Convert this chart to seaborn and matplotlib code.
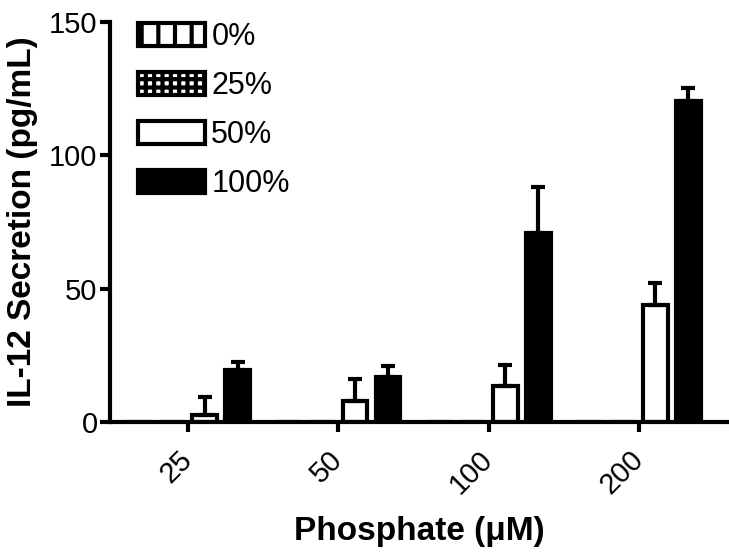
import matplotlib
matplotlib.use('Agg')
import matplotlib.pyplot as plt
import seaborn as sns
import pandas as pd
import numpy as np
from matplotlib.patches import Patch

# data
phosphate = ['25', '50', '100', '200']
groups = ['0%', '25%', '50%', '100%']
vals_0 = [0, 0, 0, 0]
vals_25 = [0, 0, 0, 0]
vals_50 = [2.5, 8, 13.5, 44]
vals_100 = [19.5, 17, 71, 120.5]
err_50 = [7, 8, 8, 8]
err_100 = [3, 4, 17, 5]

values = {'0%': vals_0, '25%': vals_25, '50%': vals_50, '100%': vals_100}
errors = {'50%': err_50, '100%': err_100}

rows = []
for g in groups:
    for p, v in zip(phosphate, values[g]):
        rows.append({'Phosphate': p, 'Group': g, 'Value': v})
df = pd.DataFrame(rows)

sns.set_style('ticks')
plt.rcParams['font.family'] = ['Liberation Sans', 'DejaVu Sans']
plt.rcParams['hatch.linewidth'] = 3
plt.rcParams['hatch.color'] = 'black'
plt.rcParams['text.color'] = 'black'
plt.rcParams['axes.labelcolor'] = 'black'
plt.rcParams['xtick.color'] = 'black'
plt.rcParams['ytick.color'] = 'black'
plt.rcParams['axes.edgecolor'] = 'black'

fig = plt.figure(figsize=(7.29, 5.56), dpi=100)
ax = fig.add_axes([0.151, 0.241, 0.849, 0.719])

palette = {'0%': 'white', '25%': 'white', '50%': 'white', '100%': 'black'}
hatches = {'0%': '|', '25%': '++', '50%': '', '100%': ''}

sns.barplot(data=df, x='Phosphate', y='Value', hue='Group', order=phosphate,
            hue_order=groups, palette=palette, edgecolor='black', linewidth=3,
            width=0.88, gap=0.25, errorbar=None, legend=False, ax=ax)

# upper-only error bars, Prism style
for g, cont in zip(groups, ax.containers):
    for bar in cont:
        bar.set_hatch(hatches[g])
    if g in errors:
        xs = [b.get_x() + b.get_width() / 2 for b in cont]
        ys = [b.get_height() for b in cont]
        errs = errors[g]
        ax.errorbar(xs, ys, yerr=[np.zeros(len(errs)), errs], fmt='none',
                    ecolor='black', elinewidth=3, capsize=5, capthick=3, zorder=1)

ax.set_ylim(0, 150)
ax.set_xlim(-0.52, 3.6)
ax.set_yticks([0, 50, 100, 150])

for s in ['top', 'right']:
    ax.spines[s].set_visible(False)
for s in ['left', 'bottom']:
    ax.spines[s].set_linewidth(3)

ax.tick_params(axis='both', width=3, length=7, labelsize=21)
ax.tick_params(axis='y', pad=2)
ax.tick_params(axis='x', pad=17)
for lab in ax.get_xticklabels():
    lab.set_rotation(45)
    lab.set_ha('right')
    lab.set_va('center')
    lab.set_rotation_mode('anchor')

ax.set_xlabel('Phosphate (μM)', fontsize=24, fontweight='bold', labelpad=12)
ax.set_ylabel('IL-12 Secretion (pg/mL)', fontsize=24, fontweight='bold', labelpad=8)

handles = [Patch(facecolor=palette[g], edgecolor='black', linewidth=3, hatch=hatches[g], label=g)
           for g in groups]
ax.legend(handles=handles, loc='upper left', bbox_to_anchor=(0.045, 1.0), frameon=False,
          fontsize=22, handlelength=2.2, handleheight=0.75, handletextpad=0.2,
          labelspacing=0.62, borderpad=0, borderaxespad=0)

fig.savefig('out.png', dpi=100)
